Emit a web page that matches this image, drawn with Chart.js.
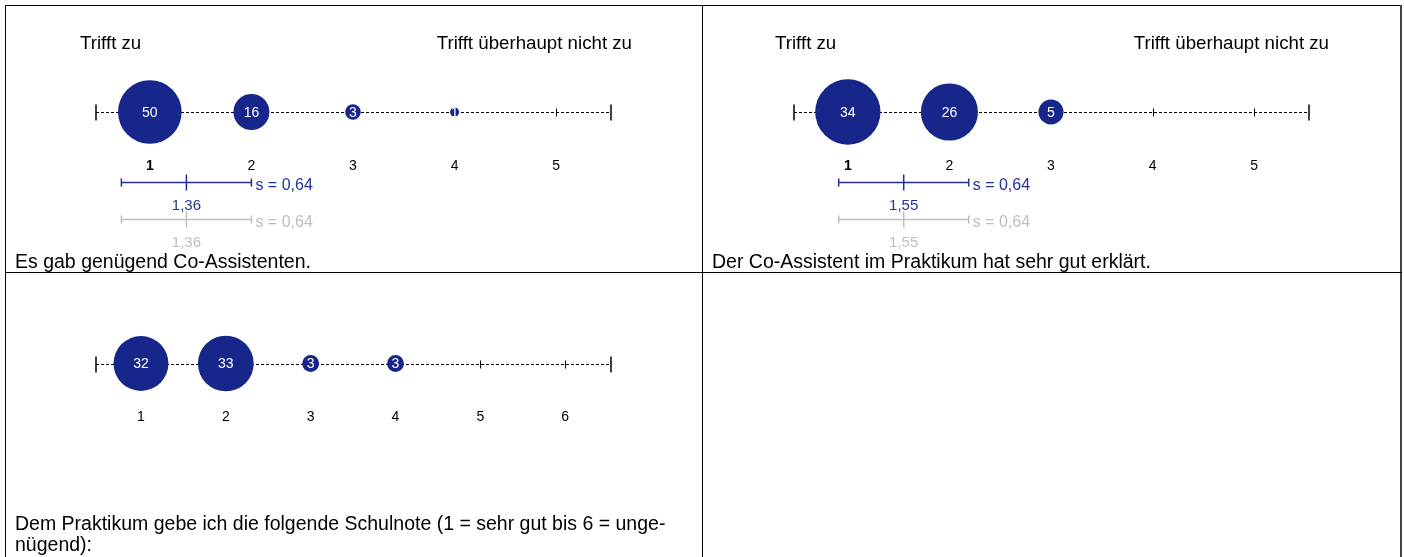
<!DOCTYPE html>
<html>
<head>
<meta charset="utf-8">
<script src="https://cdn.jsdelivr.net/npm/chart.js@4.4.0/dist/chart.umd.min.js"></script>
<style>
  html, body { margin: 0; padding: 0; background: #fff; }
  body { width: 1404px; height: 557px; position: relative; overflow: hidden; }
  canvas { position: absolute; }
  .ln { position: absolute; background: #000; }
</style>
</head>
<body>
<div class="ln" style="left:5px;top:5px;width:1397px;height:1px;"></div>
<div class="ln" style="left:5px;top:5px;width:1px;height:552px;"></div>
<div class="ln" style="left:1400px;top:5px;width:2px;height:552px;background:#444;"></div>
<div class="ln" style="left:702px;top:5px;width:1px;height:552px;"></div>
<div class="ln" style="left:5px;top:272px;width:1397px;height:1px;"></div>
<canvas id="c1" width="697" height="267" style="left:5px;top:5px;"></canvas>
<canvas id="c2" width="699" height="267" style="left:702px;top:5px;"></canvas>
<canvas id="c3" width="697" height="285" style="left:5px;top:272px;"></canvas>
<script>
// ---------------- data ----------------
const ticks5 = ['1', '2', '3', '4', '5'];
const ticks6 = ['1', '2', '3', '4', '5', '6'];

const counts1 = [50, 16, 3, 1, 0];
const counts2 = [34, 26, 5, 0, 0];
const counts3 = [32, 33, 3, 3, 0, 0];

const captions1 = ['Es gab genügend Co-Assistenten.'];
const captions2 = ['Der Co-Assistent im Praktikum hat sehr gut erklärt.'];
const captions3 = ['Dem Praktikum gebe ich die folgende Schulnote (1 = sehr gut bis 6 = unge-', 'nügend):'];

const leftLabel = 'Trifft zu';
const rightLabel = 'Trifft überhaupt nicht zu';

const mean1 = 1.36, sd1 = 0.64, cmpMean1 = 1.36, cmpSd1 = 0.64;
const mean2 = 1.55, sd2 = 0.64, cmpMean2 = 1.55, cmpSd2 = 0.64;

// ---------------- style ----------------
const FONT = '"Liberation Sans", Arial, Helvetica, sans-serif';
const BUBBLE = 'rgb(22,38,138)';
const BLUE = 'rgb(36,50,150)';
const GRAY = 'rgb(190,190,190)';

function fmt(v) { return v.toFixed(2).replace('.', ','); }

function makeBubbles(counts, k) {
  return counts.map((c, i) => ({ x: i + 1, y: 0.5, r: k * Math.sqrt(c), count: c }))
               .filter(p => p.count > 0);
}

function panelPlugin(cfg) {
  return {
    id: 'panel',
    beforeDatasetsDraw(chart) {
      const ctx = chart.ctx;
      const xs = chart.scales.x, ys = chart.scales.y;
      const ly = Math.round(ys.getPixelForValue(0.5)) + 0.5;
      const x0 = xs.getPixelForValue(xs.min), x1 = xs.getPixelForValue(xs.max);
      ctx.save();
      ctx.strokeStyle = '#000';
      ctx.lineWidth = 1;
      ctx.setLineDash([3, 2]);
      ctx.beginPath(); ctx.moveTo(x0, ly); ctx.lineTo(x1, ly); ctx.stroke();
      ctx.setLineDash([]);
      ctx.lineWidth = 1.5;
      ctx.beginPath();
      ctx.moveTo(x0, ly - 8); ctx.lineTo(x0, ly + 8);
      ctx.moveTo(x1, ly - 8); ctx.lineTo(x1, ly + 8);
      ctx.stroke();
      ctx.lineWidth = 1;
      ctx.beginPath();
      cfg.ticks.forEach((t, i) => {
        const px = Math.round(xs.getPixelForValue(i + 1)) + 0.5;
        ctx.moveTo(px, ly - 4); ctx.lineTo(px, ly + 4);
      });
      ctx.stroke();
      ctx.restore();
    },
    afterDatasetsDraw(chart) {
      const ctx = chart.ctx;
      const xs = chart.scales.x, ys = chart.scales.y;
      const ly = ys.getPixelForValue(0.5);
      ctx.save();
      // bubble labels
      ctx.fillStyle = '#fff';
      ctx.font = '14px ' + FONT;
      ctx.textAlign = 'center';
      ctx.textBaseline = 'middle';
      chart.data.datasets[0].data.forEach(p => {
        ctx.fillText(String(p.count), xs.getPixelForValue(p.x), ly + 1);
      });
      // tick labels
      cfg.ticks.forEach((t, i) => {
        ctx.fillStyle = '#000';
        ctx.font = (cfg.boldFirst && i === 0 ? 'bold ' : '') + '14px ' + FONT;
        ctx.fillText(t, xs.getPixelForValue(i + 1), ly + 54);
      });
      // headers
      ctx.font = '18.7px ' + FONT;
      ctx.fillStyle = '#000';
      if (cfg.headers) {
        ctx.textAlign = 'left';
        ctx.fillText(leftLabel, cfg.headerLeft, 39);
        ctx.textAlign = 'right';
        ctx.fillText(rightLabel, cfg.headerRight, 39);
      }
      // mean / sd bars
      const drawBar = (m, s, y, color) => {
        const a = xs.getPixelForValue(m - s), b = xs.getPixelForValue(m + s), c = xs.getPixelForValue(m);
        const yy = Math.round(y) + 0.5;
        ctx.strokeStyle = color; ctx.lineWidth = 1.5;
        ctx.beginPath();
        ctx.moveTo(a, yy); ctx.lineTo(b, yy);
        ctx.moveTo(a, yy - 4); ctx.lineTo(a, yy + 4);
        ctx.moveTo(b, yy - 4); ctx.lineTo(b, yy + 4);
        ctx.moveTo(c, yy - 8); ctx.lineTo(c, yy + 8);
        ctx.stroke();
        ctx.fillStyle = color;
        ctx.font = '16px ' + FONT;
        ctx.textAlign = 'left';
        ctx.fillText('s = ' + fmt(s), b + 4, yy + 3);
        ctx.font = '15px ' + FONT;
        ctx.textAlign = 'center';
        ctx.fillText(fmt(m), c, yy + 23);
      };
      if (cfg.mean !== undefined) {
        drawBar(cfg.mean, cfg.sd, ly + 70, BLUE);
        drawBar(cfg.cmpMean, cfg.cmpSd, ly + 107, GRAY);
      }
      // captions
      ctx.fillStyle = '#000';
      ctx.font = '19.5px ' + FONT;
      ctx.textAlign = 'left';
      cfg.captions.forEach((c, i) => ctx.fillText(c, 10, cfg.captionY + i * 21));
      ctx.restore();
    }
  };
}

function makeChart(id, cfg) {
  const n = cfg.ticks.length;
  new Chart(document.getElementById(id), {
    type: 'bubble',
    data: { datasets: [{ data: makeBubbles(cfg.counts, cfg.k), backgroundColor: BUBBLE, borderColor: BUBBLE, borderWidth: 0, clip: false }] },
    options: {
      responsive: false, animation: false, devicePixelRatio: 1, events: [],
      layout: { padding: cfg.padding, autoPadding: false },
      plugins: { legend: { display: false }, tooltip: { enabled: false } },
      scales: {
        x: { type: 'linear', min: 0.47, max: n + 0.54, display: false },
        y: { type: 'linear', min: 0, max: 1, display: false }
      }
    },
    plugins: [panelPlugin(cfg)]
  });
}

makeChart('c1', { ticks: ticks5, counts: counts1, k: 4.5, boldFirst: true, headers: true,
  headerLeft: 75, headerRight: 627, mean: mean1, sd: sd1, cmpMean: cmpMean1, cmpSd: cmpSd1,
  captions: captions1, captionY: 258, padding: { left: 91, right: 91, top: 0, bottom: 53 } });
makeChart('c2', { ticks: ticks5, counts: counts2, k: 5.6, boldFirst: true, headers: true,
  headerLeft: 73, headerRight: 627, mean: mean2, sd: sd2, cmpMean: cmpMean2, cmpSd: cmpSd2,
  captions: captions2, captionY: 258, padding: { left: 92, right: 92, top: 0, bottom: 53 } });
makeChart('c3', { ticks: ticks6, counts: counts3, k: 4.85, boldFirst: false, headers: false,
  captions: captions3, captionY: 253, padding: { left: 91, right: 91, top: 0, bottom: 102 } });
</script>
</body>
</html>
